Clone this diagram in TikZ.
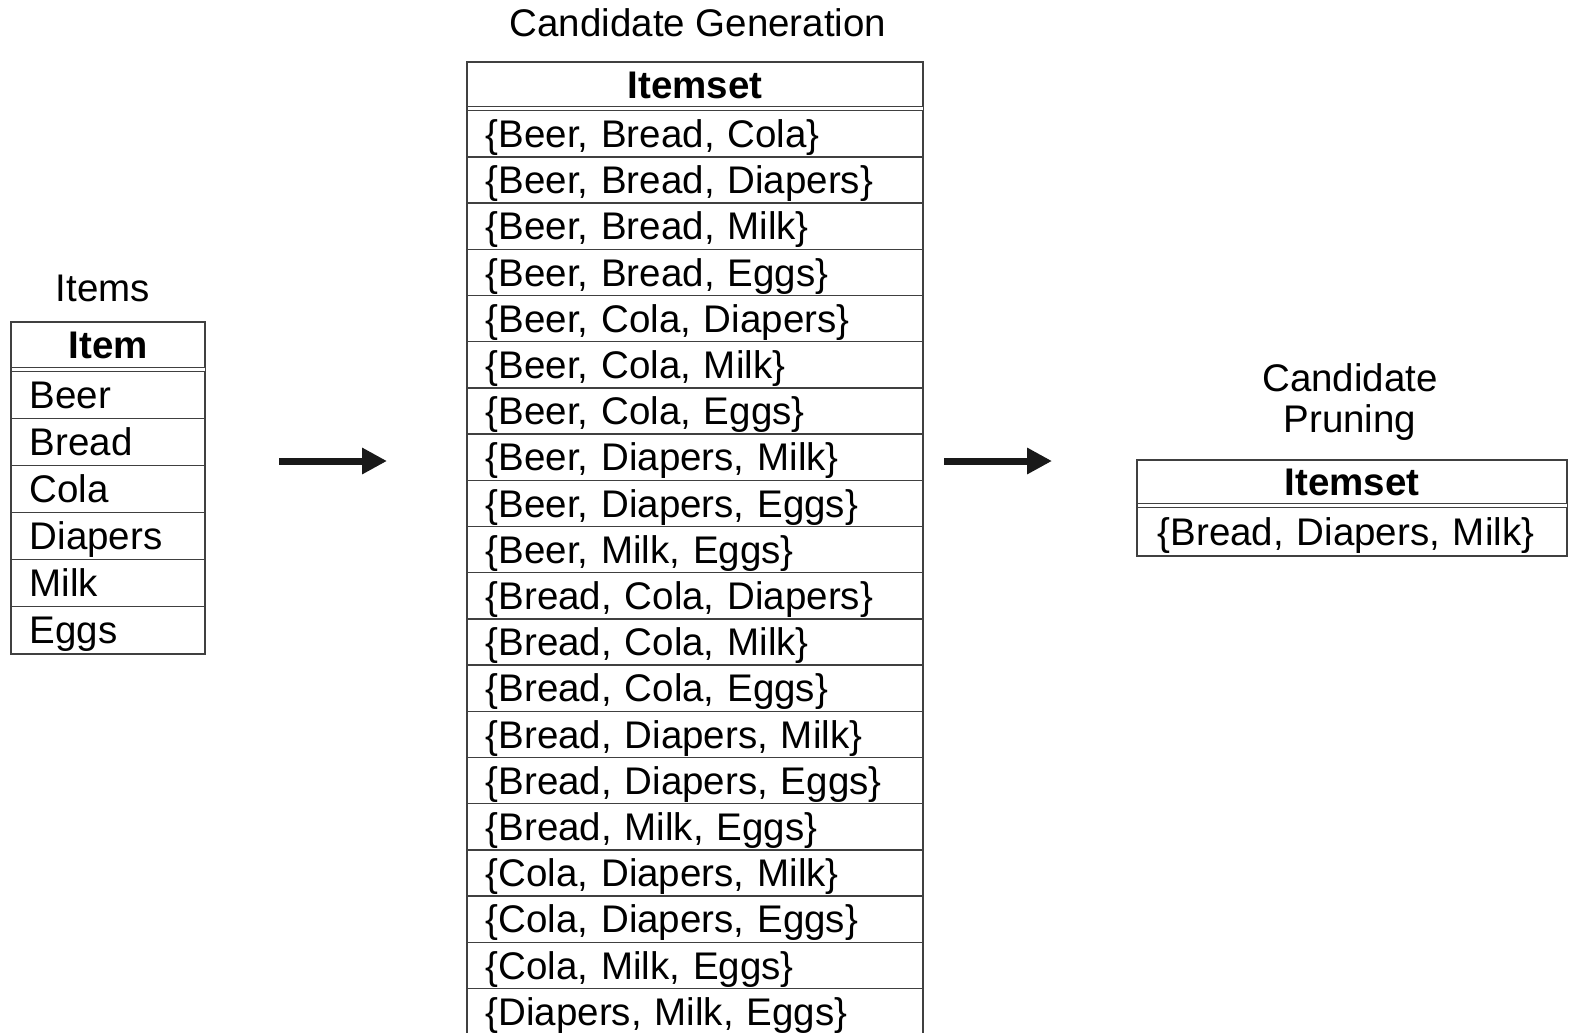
\documentclass[tikz,border=0pt]{standalone}
\usepackage{fontspec}
\setmainfont{Liberation Sans}
\usetikzlibrary{arrows.meta}

\tikzset{
  txt/.style={font=\fontsize{38.5}{41}\selectfont, inner sep=0pt, text height=27.4pt, text depth=0pt},
  frame/.style={draw=black!75, line width=1.4pt},
  hdr/.style={txt, frame, anchor=north west, minimum width=#1, font=\fontsize{38.5}{41}\selectfont\bfseries},
  row/.style={txt, frame, anchor=north west, minimum width=#1, text width=#1-36pt, inner xsep=18pt, align=left},
  flow/.style={line width=7pt, -{Triangle[length=25pt,width=25pt]}, black!90},
}

\begin{document}
\begin{tikzpicture}[x=1pt, y=-1pt]
\useasboundingbox (0,0) rectangle (1574,1033);

% ---- Items table ----
\node[txt] (itemsTitle) at (103,288) {Items};
\node[hdr=193pt, minimum height=45pt] (itemsHead) at (11,322) {Item};
\foreach \name [count=\i from 0] in {Beer,Bread,Cola,Diapers,Milk,Eggs}
  \node[row=193pt, minimum height=47pt] (item\i) at (11,371+47*\i) {\name};
\draw[frame] (itemsHead.north west) rectangle (item5.south east);

% ---- Candidate generation table ----
\node[txt] (genTitle) at (698,23) {Candidate Generation};
\node[hdr=455pt, minimum height=44pt] (genHead) at (467,62) {Itemset};
\foreach \set [count=\i from 0] in {
  {Beer, Bread, Cola},{Beer, Bread, Diapers},{Beer, Bread, Milk},{Beer, Bread, Eggs},
  {Beer, Cola, Diapers},{Beer, Cola, Milk},{Beer, Cola, Eggs},{Beer, Diapers, Milk},
  {Beer, Diapers, Eggs},{Beer, Milk, Eggs},{Bread, Cola, Diapers},{Bread, Cola, Milk},
  {Bread, Cola, Eggs},{Bread, Diapers, Milk},{Bread, Diapers, Eggs},{Bread, Milk, Eggs},
  {Cola, Diapers, Milk},{Cola, Diapers, Eggs},{Cola, Milk, Eggs},{Diapers, Milk, Eggs}}
  \node[row=455pt, minimum height=46.2pt] (gen\i) at (467,110+46.2*\i) {\{\set\}};
\draw[frame] (genHead.north west) rectangle (gen19.south east);

% ---- Candidate pruning table ----
\node[txt, align=center] (pruneTitle) at (1350,418.5) {Candidate\\Pruning};
\node[hdr=429pt, minimum height=43pt] (pruneHead) at (1137,460) {Itemset};
\node[row=429pt, minimum height=48pt, inner xsep=20pt, text width=389pt] (prune0) at (1137,507) {\{Bread, Diapers, Milk\}};
\draw[frame] (pruneHead.north west) rectangle (prune0.south east);

% ---- Flow arrows ----
\coordinate (a1s) at (279,461);
\coordinate (a1e) at (387,461);
\coordinate (a2s) at (944,461);
\coordinate (a2e) at (1052,461);
\draw[flow] (a1s) -- (a1e);
\draw[flow] (a2s) -- (a2e);
\end{tikzpicture}
\end{document}
